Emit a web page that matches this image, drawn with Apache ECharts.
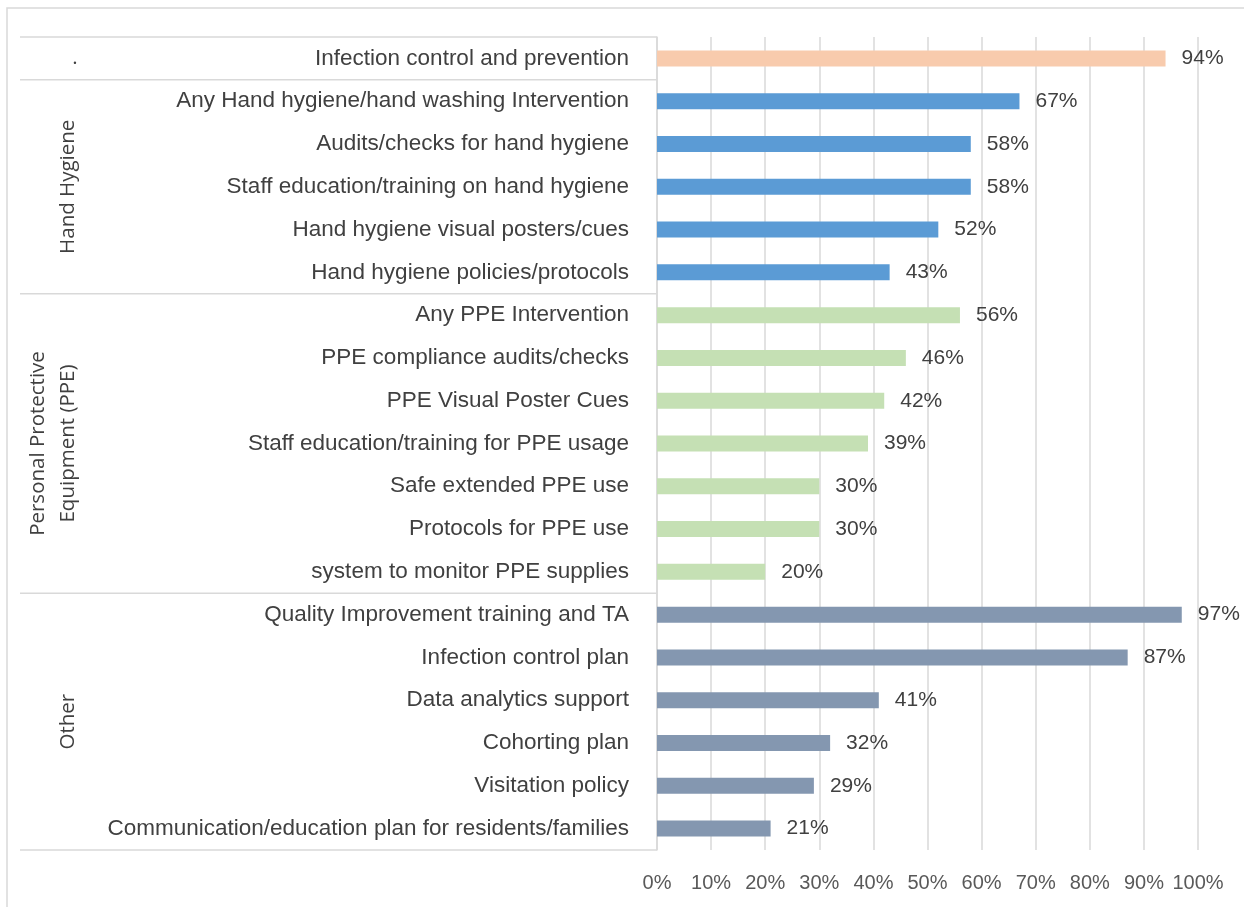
<!DOCTYPE html>
<html>
<head>
<meta charset="utf-8">
<script src="https://cdn.jsdelivr.net/npm/echarts@6/dist/echarts.min.js"></script>
<style>
  html, body { margin: 0; padding: 0; background: #fff; }
  #chart { width: 1244px; height: 907px; }
</style>
</head>
<body>
<div id="chart"></div>
<script>
// categories top to bottom
const categories = [
  'Infection control and prevention',
  'Any Hand hygiene/hand washing Intervention',
  'Audits/checks for hand hygiene',
  'Staff education/training on hand hygiene',
  'Hand hygiene visual posters/cues',
  'Hand hygiene policies/protocols',
  'Any PPE Intervention',
  'PPE compliance audits/checks',
  'PPE Visual Poster Cues',
  'Staff education/training for PPE usage',
  'Safe extended PPE use',
  'Protocols for PPE use',
  'system to monitor PPE supplies',
  'Quality Improvement training and TA',
  'Infection control plan',
  'Data analytics support',
  'Cohorting plan',
  'Visitation policy',
  'Communication/education plan for residents/families'
];
const values = [94, 67, 58, 58, 52, 43, 56, 46, 42, 39, 30, 30, 20, 97, 87, 41, 32, 29, 21];

const groupNames = ['.', 'Hand Hygiene', 'Personal Protective\nEquipment (PPE)', 'Other'];
const groupSizes = [1, 5, 7, 6];
const groupColors = ['#F8CBAD', '#5B9BD5', '#C5E0B4', '#8497B0'];

const xTicks = [0, 10, 20, 30, 40, 50, 60, 70, 80, 90, 100];

const barColors = [];
groupSizes.forEach((n, g) => { for (let i = 0; i < n; i++) barColors.push(groupColors[g]); });

const chart = echarts.init(document.getElementById('chart'));

const option = {
  animation: false,
  grid: { left: 657, right: 46, top: 37, bottom: 57 },
  xAxis: {
    type: 'value',
    min: xTicks[0],
    max: xTicks[xTicks.length - 1],
    interval: 10,
    axisLine: { show: false },
    axisTick: { show: false },
    axisLabel: {
      formatter: '{value}%',
      color: '#595959',
      fontFamily: 'Liberation Sans',
      fontSize: 20,
      margin: 23
    },
    splitLine: { lineStyle: { color: '#D9D9D9', width: 1.5 } }
  },
  yAxis: {
    type: 'category',
    inverse: true,
    data: categories,
    axisLine: { show: true, lineStyle: { color: '#D9D9D9', width: 1.5 } },
    axisTick: { show: false },
    axisLabel: {
      color: '#404040',
      fontFamily: 'Liberation Sans',
      fontSize: 22.5,
      margin: 28
    }
  },
  series: [{
    type: 'bar',
    barWidth: 16,
    data: values.map((v, i) => ({ value: v, itemStyle: { color: barColors[i] } })),
    label: {
      show: true,
      position: 'right',
      distance: 16,
      formatter: '{c}%',
      color: '#404040',
      fontFamily: 'Liberation Sans',
      fontSize: 21
    }
  }]
};

chart.setOption(option);

// group separators and labels on the left
const c0 = chart.convertToPixel({ yAxisIndex: 0 }, 0);
const c1 = chart.convertToPixel({ yAxisIndex: 0 }, 1);
const band = c1 - c0;
const axisX = chart.convertToPixel({ xAxisIndex: 0 }, 0);
const graphics = [{
  type: 'rect',
  shape: { x: 7, y: 8, width: 1260, height: 920 },
  style: { fill: null, stroke: '#D9D9D9', lineWidth: 1.5 },
  silent: true
}];
let start = 0;
const edges = [c0 - band / 2];
groupSizes.forEach((n, g) => {
  const top = c0 + (start - 0.5) * band;
  const bottom = c0 + (start + n - 0.5) * band;
  edges.push(bottom);
  const cy = (top + bottom) / 2;
  const multi = groupNames[g].indexOf('\n') >= 0;
  graphics.push({
    type: 'text',
    x: multi ? 53 : (g === 0 ? 75 : 68),
    y: cy,
    rotation: g === 0 ? 0 : Math.PI / 2,
    style: {
      text: groupNames[g],
      fill: '#404040',
      font: '20.5px "Open Sans"',
      textAlign: 'center',
      textVerticalAlign: 'middle',
      lineHeight: 30
    },
    silent: true
  });
  start += n;
});
edges.forEach(y => {
  graphics.push({
    type: 'line',
    shape: { x1: 20, y1: y, x2: axisX, y2: y },
    style: { stroke: '#D9D9D9', lineWidth: 1.5 },
    silent: true
  });
});
chart.setOption({ graphic: graphics });
</script>
</body>
</html>
